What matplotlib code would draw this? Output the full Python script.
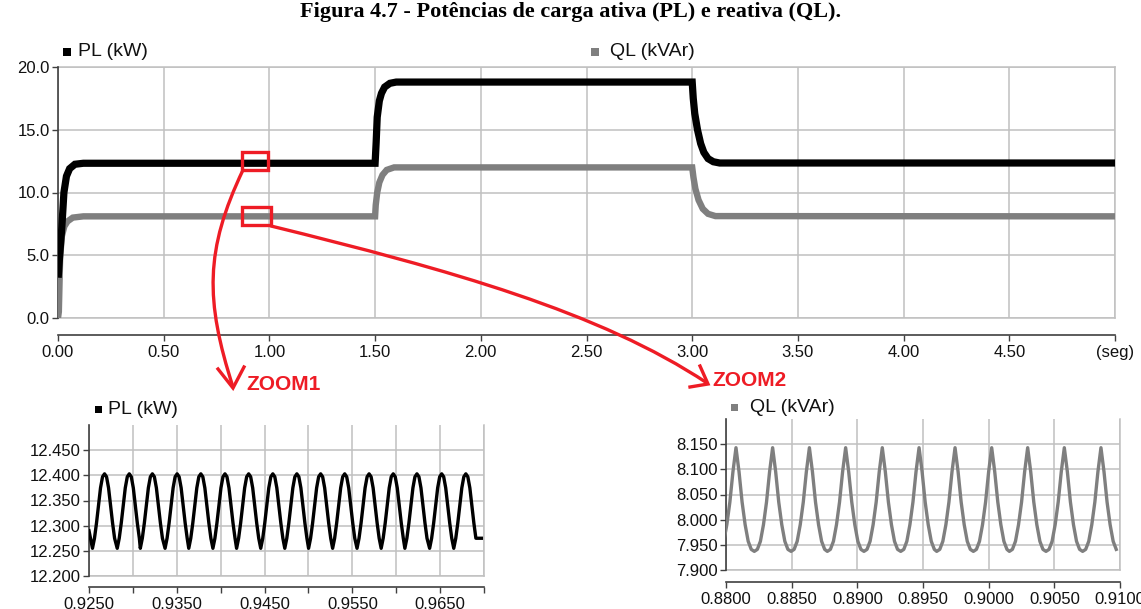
import numpy as np
import matplotlib
matplotlib.use("Agg")
import matplotlib.pyplot as plt
from matplotlib.patches import Rectangle, PathPatch
from matplotlib.path import Path

W, H = 1141, 609

# --- dados do grafico principal (t em s) ---
pl_t = [0.002, 0.008, 0.018, 0.028, 0.04, 0.055, 0.08, 0.12,
        1.5, 1.505, 1.51, 1.52, 1.53, 1.545, 1.57, 1.6,
        3.0, 3.005, 3.012, 3.025, 3.04, 3.055, 3.075, 3.1, 3.13, 5.0]
pl_v = [3.5, 5.0, 7.2, 10.0, 11.3, 11.9, 12.25, 12.33,
        12.33, 14.0, 16.0, 17.3, 17.9, 18.4, 18.7, 18.8,
        18.8, 17.5, 16.3, 15.0, 13.9, 13.2, 12.7, 12.45, 12.35, 12.35]
ql_t = [0.0, 0.004, 0.010, 0.018, 0.03, 0.045, 0.07, 0.12,
        1.5, 1.503, 1.51, 1.52, 1.535, 1.555, 1.59,
        3.0, 3.006, 3.015, 3.03, 3.05, 3.075, 3.11, 5.0]
ql_v = [0.0, 0.5, 4.8, 6.5, 7.3, 7.7, 8.0, 8.1,
        8.1, 9.0, 10.0, 10.8, 11.4, 11.8, 12.0,
        12.0, 11.2, 10.3, 9.4, 8.7, 8.3, 8.12, 8.1]

main_xticks = [0.0, 0.5, 1.0, 1.5, 2.0, 2.5, 3.0, 3.5, 4.0, 4.5, 5.0]
main_xlabels = ["0.00", "0.50", "1.00", "1.50", "2.00", "2.50", "3.00",
                "3.50", "4.00", "4.50", "(seg)"]
main_yticks = [0.0, 5.0, 10.0, 15.0, 20.0]

# --- ZOOM1: PL entre 0.925 e 0.970 s ---
pl_zoom_peaks = [0.92677, 0.92959, 0.93222, 0.93504, 0.93774, 0.94049,
                 0.94319, 0.94594, 0.94868, 0.95139, 0.95413, 0.95691,
                 0.95966, 0.96236, 0.96518, 0.96793]
pl_zoom_period = 0.00275
pl_cycle_phase = [-6/12, -5/12, -4/12, -3/12, -2/12, -1/12, 0,
                  1/12, 2/12, 3/12, 4/12, 5/12]
pl_cycle_vals = [12.255, 12.275, 12.305, 12.34, 12.375, 12.397, 12.403,
                 12.397, 12.375, 12.34, 12.305, 12.275]
pl_zoom_start = (0.925, 12.29)
pl_zoom_end = (0.9697, 12.275)
z1_xticks = [0.925, 0.930, 0.935, 0.940, 0.945, 0.950, 0.955, 0.960, 0.965, 0.970]
z1_xlabels = ["0.9250", "", "0.9350", "", "0.9450", "", "0.9550", "", "0.9650", ""]
z1_yticks = [12.20, 12.25, 12.30, 12.35, 12.40, 12.45]

# --- ZOOM2: QL entre 0.880 e 0.910 s ---
ql_zoom_peaks = [0.88076, 0.88355, 0.88635, 0.88911, 0.89190, 0.89470,
                 0.89744, 0.90023, 0.90297, 0.90576, 0.90855]
ql_zoom_period = 0.00279
ql_cycle_phase = pl_cycle_phase
ql_cycle_vals = [7.937, 7.941, 7.957, 7.99, 8.035, 8.095, 8.143,
                 8.095, 8.035, 7.99, 7.957, 7.941]
z2_xticks = [0.880, 0.885, 0.890, 0.895, 0.900, 0.905, 0.910]
z2_xlabels = ["0.8800", "0.8850", "0.8900", "0.8950", "0.9000", "0.9050", "0.9100"]
z2_yticks = [7.90, 7.95, 8.00, 8.05, 8.10, 8.15]


def build_wave(peaks, period, phases, vals):
    tt, vv = [], []
    for p in peaks:
        for ph, v in zip(phases, vals):
            tt.append(p + ph * period)
            vv.append(v)
    return tt, vv


GRID = "#c0c0c0"
AXC = "#404040"
RED = "#ee1c25"
GRAY = "#7f7f7f"
SANS = "Liberation Sans"

plt.rcParams["font.family"] = SANS

fig = plt.figure(figsize=(W / 100, H / 100), dpi=100)


def fx(x, y):
    return x / W, 1 - y / H


def style_axes(ax, outward_px, labelsize=12):
    ax.grid(True, color=GRID, lw=1.1, zorder=0)
    ax.set_axisbelow(True)
    for s in ["top", "right"]:
        ax.spines[s].set_visible(False)
    ax.spines["left"].set_color(AXC)
    ax.spines["left"].set_linewidth(1.2)
    ax.spines["bottom"].set_color(AXC)
    ax.spines["bottom"].set_linewidth(1.2)
    ax.spines["bottom"].set_position(("outward", outward_px * 0.72))
    ax.tick_params(direction="out", length=4, width=1, color=AXC,
                   labelsize=labelsize, pad=3, labelcolor="#111111")
    ax.tick_params(axis="y", pad=2)
    xmin, xmax = ax.get_xlim()
    ymin, ymax = ax.get_ylim()
    ax.axhline(ymin, color=GRID, lw=1.1, clip_on=False, zorder=0.5)
    ax.axvline(xmax, color=GRID, lw=1.1, clip_on=False, zorder=0.5)


# --- grafico principal ---
ax = fig.add_axes([58 / W, 1 - 318 / H, (1115 - 58) / W, (318 - 67) / H])
ax.set_xlim(0, 5)
ax.set_ylim(0, 20)
ax.set_xticks(main_xticks)
ax.set_xticklabels(main_xlabels)
ax.set_yticks(main_yticks)
ax.set_yticklabels([f"{v:.1f}" for v in main_yticks])
style_axes(ax, 17, labelsize=12)
ax.axhline(20, color=GRID, lw=1.1, clip_on=False, zorder=0.5)
ax.plot(ql_t, ql_v, color=GRAY, lw=4.6, solid_joinstyle="miter", zorder=3)
ax.plot(pl_t, pl_v, color="black", lw=5.2, solid_joinstyle="miter", zorder=4)

# --- ZOOM1 ---
ax1 = fig.add_axes([89 / W, 1 - 576 / H, (484 - 89) / W, (576 - 425) / H])
ax1.set_xlim(0.925, 0.970)
ax1.set_ylim(12.2, 12.5)
ax1.set_xticks(z1_xticks)
ax1.set_xticklabels(z1_xlabels)
ax1.set_yticks(z1_yticks)
ax1.set_yticklabels([f"{v:.3f}" for v in z1_yticks])
style_axes(ax1, 11, labelsize=12)
t1, v1 = build_wave(pl_zoom_peaks, pl_zoom_period, pl_cycle_phase, pl_cycle_vals)
t1 = [pl_zoom_start[0]] + t1 + [pl_zoom_end[0]]
v1 = [pl_zoom_start[1]] + v1 + [pl_zoom_end[1]]
ax1.plot(t1, v1, color="black", lw=2.4, zorder=3)

# --- ZOOM2 ---
ax2 = fig.add_axes([726 / W, 1 - 570 / H, (1120 - 726) / W, (570 - 419) / H])
ax2.set_xlim(0.880, 0.910)
ax2.set_ylim(7.9, 8.2)
ax2.set_xticks(z2_xticks)
ax2.set_xticklabels(z2_xlabels)
ax2.set_yticks(z2_yticks)
ax2.set_yticklabels([f"{v:.3f}" for v in z2_yticks])
style_axes(ax2, 12, labelsize=12)
t2, v2 = build_wave(ql_zoom_peaks, ql_zoom_period, ql_cycle_phase, ql_cycle_vals)
ax2.plot(t2, v2, color=GRAY, lw=2.4, zorder=3)

# --- titulo ---
fig.text(0.5, 1 - 12 / H, "Figura 4.7 - Potências de carga ativa (PL) e reativa (QL).",
         ha="center", va="center", family="Liberation Serif", weight="bold", size=16)

# --- legendas ---
def legend_item(x_sq, y_c, color, label, x_txt, sq=8):
    x0, y0 = fx(x_sq, y_c + sq / 2)
    fig.add_artist(Rectangle((x0, y0), sq / W, sq / H, transform=fig.transFigure,
                             facecolor=color, edgecolor="none"))
    fig.text(*fx(x_txt, y_c), label, ha="left", va="center", size=14,
             color="#111111")


legend_item(63, 52, "black", "PL (kW)", 78)
legend_item(591, 52, GRAY, "QL (kVAr)", 610)
legend_item(95, 409, "black", "PL (kW)", 108, sq=7)
legend_item(731, 407, GRAY, "QL (kVAr)", 750, sq=7)

# --- anotacoes em vermelho (coordenadas em pixels) ---
ov = fig.add_axes([0, 0, 1, 1], zorder=10)
ov.set_xlim(0, W)
ov.set_ylim(H, 0)
ov.axis("off")

for (x0, y0, x1, y1) in [(242, 152, 268, 170), (242, 207, 271, 225)]:
    ov.add_patch(Rectangle((x0, y0), x1 - x0, y1 - y0, fill=False,
                           edgecolor=RED, lw=2.4))

curve1 = [(243, 170), (205, 250), (205, 300), (233, 387)]
curve2 = [(271, 226), (450, 270), (600, 312), (707, 383)]
codes = [Path.MOVETO, Path.CURVE4, Path.CURVE4, Path.CURVE4]
for c in (curve1, curve2):
    ov.add_patch(PathPatch(Path(c, codes), fill=False, edgecolor=RED, lw=2.4,
                           capstyle="round"))

heads = [[(218, 369), (233, 388), (244, 367)],
         [(700, 366), (708, 384), (690, 387)]]
for hd in heads:
    xs, ys = zip(*hd)
    ov.plot(xs, ys, color=RED, lw=2.4, solid_joinstyle="miter")

ov.text(246, 384, "ZOOM1", color=RED, weight="bold", size=15, ha="left", va="center")
ov.text(712, 381, "ZOOM2", color=RED, weight="bold", size=15, ha="left", va="center")

fig.savefig("out.png", dpi=100)
